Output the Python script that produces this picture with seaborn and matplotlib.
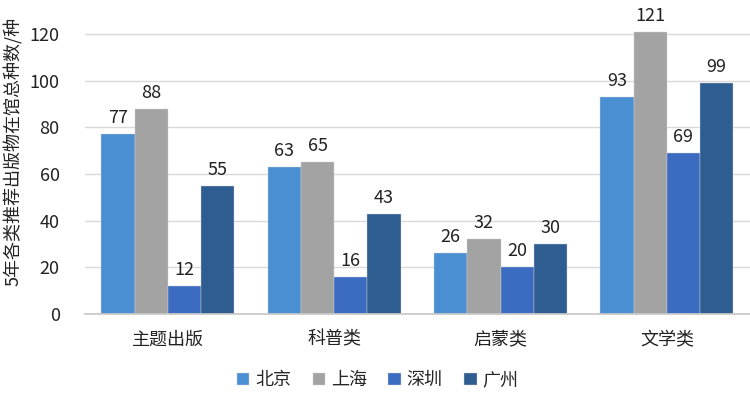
import matplotlib
matplotlib.use("Agg")
import matplotlib.pyplot as plt
import seaborn as sns
import pandas as pd

categories = ["主题出版", "科普类", "启蒙类", "文学类"]
cities = ["北京", "上海", "深圳", "广州"]
beijing = [77, 63, 26, 93]
shanghai = [88, 65, 32, 121]
shenzhen = [12, 16, 20, 69]
guangzhou = [55, 43, 30, 99]
yticks = [0, 20, 40, 60, 80, 100, 120]
colors = ["#4a8fd2", "#a3a3a3", "#3b6cc2", "#2e5d92"]

rows = []
for city, vals in zip(cities, [beijing, shanghai, shenzhen, guangzhou]):
    for c, v in zip(categories, vals):
        rows.append({"类别": c, "城市": city, "数量": v})
df = pd.DataFrame(rows)

sns.set_theme(style="white")
plt.rcParams['font.family'] = ['Noto Sans CJK SC', 'DejaVu Sans']

fig = plt.figure(figsize=(7.5, 3.94), dpi=100)
ax = fig.add_axes([0.113, 0.203, 0.887, 0.77])
sns.barplot(data=df, x="类别", y="数量", hue="城市", hue_order=cities,
            palette=colors, width=0.8, ax=ax, saturation=1,
            edgecolor="#d0d0d0", linewidth=0.3, legend=True)

for cont in ax.containers:
    ax.bar_label(cont, padding=5, fontsize=13, color="#222222")

ax.set_ylim(0, 130)
ax.set_xlim(-0.5, 3.5)
ax.set_yticks(yticks)
ax.tick_params(axis="y", labelsize=13, colors="#222222", length=0, pad=18)
ax.tick_params(axis="x", labelsize=13, colors="#222222", length=0, pad=12)
ax.grid(axis="y", color="#d9d9d9", linewidth=1)
ax.set_axisbelow(True)
for s in ["top", "right", "left"]:
    ax.spines[s].set_visible(False)
ax.spines["bottom"].set_color("#c8c8c8")
ax.set_xlabel("")
ax.set_ylabel("5年各类推荐出版物在馆总种数/种", fontsize=13, color="#222222")
ax.yaxis.set_label_coords(-0.093, 0.535)

ax.legend(loc="center", bbox_to_anchor=(0.44, -0.218), ncol=4, frameon=False,
          fontsize=13, handlelength=0.7, handleheight=0.7, handletextpad=0.3,
          columnspacing=1.2)

fig.savefig("out.png", dpi=100)
